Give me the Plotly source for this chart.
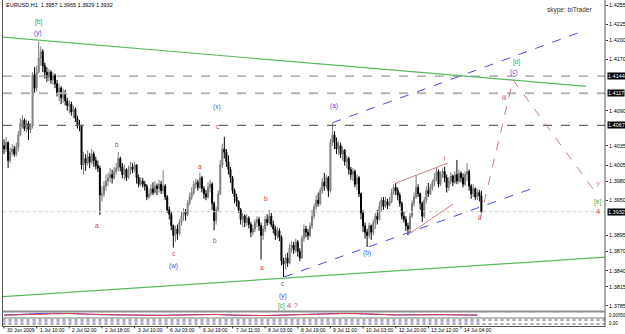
import plotly.graph_objects as go

# ---------------- data (EURUSD H1) ----------------
first_open = 1.4035
closes = [
1.4030,1.4040,1.4012,1.4025,1.4030,1.4022,1.4033,1.4052,1.4070,1.4075,
1.4062,1.4070,1.4060,1.4066,1.4146,1.4125,1.4150,1.4172,1.4182,1.4160,
1.4150,1.4142,1.4150,1.4138,1.4145,1.4132,1.4118,1.4125,1.4110,1.4118,
1.4105,1.4098,1.4100,1.4088,1.4092,1.4078,1.4068,1.4066,1.4005,1.4015,
1.4008,1.4018,1.4010,1.4022,1.4012,1.4004,1.4000,1.3958,1.3960,1.3972,
1.3980,1.3985,1.3990,1.3985,1.3995,1.4000,1.4015,1.4002,1.3990,1.3998,
1.3985,1.3995,1.4002,1.3998,1.4005,1.3985,1.3975,1.3980,1.3975,1.3972,
1.3955,1.3960,1.3968,1.3962,1.3972,1.3968,1.3975,1.3965,1.3972,1.3955,
1.3935,1.3928,1.3910,1.3895,1.3905,1.3898,1.3915,1.3925,1.3932,1.3928,
1.3945,1.3955,1.3962,1.3975,1.3978,1.3970,1.3985,1.3968,1.3960,1.3955,
1.3970,1.3975,1.3945,1.3918,1.3935,1.3960,1.4005,1.4030,1.4025,1.4010,
1.3998,1.3985,1.3965,1.3955,1.3948,1.3935,1.3920,1.3925,1.3915,1.3922,
1.3912,1.3900,1.3905,1.3915,1.3920,1.3910,1.3895,1.3905,1.3920,1.3915,
1.3925,1.3912,1.3905,1.3895,1.3902,1.3892,1.3855,1.3850,1.3860,1.3852,
1.3875,1.3880,1.3872,1.3885,1.3870,1.3860,1.3890,1.3905,1.3900,1.3895,
1.3910,1.3925,1.3940,1.3950,1.3945,1.3965,1.3978,1.3972,1.3985,1.3965,
1.4040,1.4052,1.4040,1.4030,1.4035,1.4022,1.4028,1.4010,1.4015,1.3998,
1.3990,1.3995,1.3975,1.3985,1.3960,1.3930,1.3910,1.3900,1.3895,1.3910,
1.3900,1.3915,1.3925,1.3920,1.3940,1.3950,1.3940,1.3948,1.3942,1.3948,
1.3962,1.3970,1.3965,1.3958,1.3945,1.3925,1.3920,1.3910,1.3905,1.3925,
1.3945,1.3955,1.3970,1.3960,1.3945,1.3925,1.3950,1.3965,1.3960,1.3970,
1.3978,1.3985,1.3995,1.3975,1.3990,1.3995,1.3985,1.3970,1.3980,1.3988,
1.3978,1.3990,1.3980,1.3992,1.3985,1.3975,1.3990,1.3995,1.3972,1.3960,
1.3968,1.3955,1.3962,1.3957,1.3932]
highs = [
1.4045,1.4049,1.4042,1.4032,1.4038,1.4035,1.4040,1.4058,1.4078,1.4083,
1.4078,1.4076,1.4074,1.4070,1.4150,1.4158,1.4160,1.4198,1.4190,1.4186,
1.4165,1.4158,1.4155,1.4153,1.4150,1.4148,1.4138,1.4132,1.4128,1.4124,
1.4122,1.4110,1.4106,1.4104,1.4098,1.4095,1.4082,1.4075,1.4068,1.4025,
1.4022,1.4028,1.4024,1.4030,1.4026,1.4018,1.4012,1.4004,1.3972,1.3980,
1.3990,1.3993,1.4000,1.3998,1.4002,1.4008,1.4025,1.4018,1.4008,1.4006,
1.4000,1.4004,1.4010,1.4008,1.4010,1.4006,1.3990,1.3986,1.3985,1.3980,
1.3975,1.3968,1.3975,1.3978,1.3980,1.3976,1.3982,1.3980,1.3997,1.3975,
1.3958,1.3940,1.3932,1.3912,1.3910,1.3912,1.3920,1.3932,1.3938,1.3936,
1.3950,1.3962,1.3970,1.3980,1.3984,1.3982,1.3993,1.3988,1.3972,1.3966,
1.3978,1.3982,1.3978,1.3948,1.3940,1.3965,1.4013,1.4038,1.4049,1.4030,
1.4020,1.4002,1.3988,1.3968,1.3960,1.3950,1.3938,1.3930,1.3928,1.3928,
1.3925,1.3916,1.3912,1.3920,1.3925,1.3924,1.3915,1.3910,1.3925,1.3928,
1.3935,1.3930,1.3918,1.3910,1.3908,1.3906,1.3895,1.3860,1.3866,1.3868,
1.3882,1.3886,1.3885,1.3890,1.3888,1.3875,1.3895,1.3912,1.3910,1.3905,
1.3915,1.3935,1.3945,1.3958,1.3962,1.3970,1.3985,1.3993,1.3990,1.3988,
1.4046,1.4070,1.4058,1.4048,1.4042,1.4040,1.4034,1.4030,1.4020,1.4018,
1.4002,1.4000,1.3998,1.3990,1.3988,1.3962,1.3935,1.3915,1.3905,1.3915,
1.3912,1.3920,1.3930,1.3935,1.3948,1.3955,1.3955,1.3955,1.3952,1.3955,
1.3968,1.3975,1.3977,1.3970,1.3962,1.3948,1.3932,1.3925,1.3915,1.3930,
1.3950,1.3962,1.3989,1.3975,1.3962,1.3948,1.3955,1.3972,1.3977,1.3975,
1.3982,1.3992,1.4002,1.3998,1.3995,1.4000,1.4002,1.3990,1.3986,1.3993,
1.3990,1.3995,1.4013,1.3998,1.3995,1.3992,1.3995,1.4008,1.3998,1.3975,
1.3975,1.3970,1.3968,1.3966,1.3965]
lows = [
1.4022,1.4025,1.4000,1.4008,1.4020,1.4018,1.4018,1.4026,1.4050,1.4062,
1.4058,1.4056,1.4044,1.4055,1.4062,1.4118,1.4120,1.4148,1.4160,1.4150,
1.4140,1.4135,1.4136,1.4132,1.4130,1.4125,1.4112,1.4105,1.4100,1.4102,
1.4098,1.4090,1.4085,1.4082,1.4078,1.4072,1.4062,1.4058,1.3998,1.3990,
1.3996,1.4004,1.4000,1.4006,1.4002,1.3998,1.3994,1.3927,1.3948,1.3955,
1.3965,1.3972,1.3978,1.3976,1.3982,1.3990,1.3995,1.3995,1.3984,1.3982,
1.3980,1.3983,1.3990,1.3992,1.3994,1.3976,1.3970,1.3972,1.3970,1.3965,
1.3950,1.3952,1.3956,1.3958,1.3960,1.3958,1.3962,1.3960,1.3960,1.3950,
1.3930,1.3920,1.3903,1.3876,1.3885,1.3888,1.3895,1.3910,1.3918,1.3918,
1.3925,1.3942,1.3950,1.3958,1.3968,1.3965,1.3968,1.3962,1.3952,1.3950,
1.3952,1.3962,1.3935,1.3903,1.3912,1.3932,1.3958,1.4000,1.4015,1.4002,
1.3990,1.3977,1.3960,1.3945,1.3940,1.3930,1.3912,1.3908,1.3908,1.3910,
1.3906,1.3892,1.3895,1.3900,1.3908,1.3902,1.3857,1.3888,1.3900,1.3910,
1.3912,1.3908,1.3898,1.3888,1.3890,1.3886,1.3848,1.3830,1.3842,1.3846,
1.3850,1.3868,1.3866,1.3868,1.3862,1.3855,1.3858,1.3885,1.3892,1.3888,
1.3892,1.3905,1.3920,1.3935,1.3940,1.3942,1.3960,1.3965,1.3968,1.3955,
1.3962,1.4035,1.4030,1.4022,1.4020,1.4016,1.4012,1.4004,1.4000,1.3990,
1.3982,1.3980,1.3970,1.3966,1.3955,1.3920,1.3900,1.3890,1.3877,1.3890,
1.3888,1.3895,1.3905,1.3912,1.3918,1.3932,1.3935,1.3938,1.3936,1.3940,
1.3945,1.3958,1.3958,1.3950,1.3940,1.3920,1.3915,1.3902,1.3895,1.3900,
1.3922,1.3940,1.3952,1.3955,1.3935,1.3916,1.3922,1.3945,1.3955,1.3958,
1.3965,1.3972,1.3980,1.3970,1.3972,1.3985,1.3978,1.3962,1.3965,1.3975,
1.3972,1.3975,1.3975,1.3976,1.3978,1.3970,1.3972,1.3980,1.3965,1.3952,
1.3955,1.3950,1.3950,1.3948,1.3929]

time_ticks = [0,16,32,48,64,80,96,112,128,144,160,176,192,208,224]
time_labels = ["30 Jun 2009","1 Jul 10:00","2 Jul 02:00","2 Jul 18:00","3 Jul 10:00",
               "6 Jul 03:00","6 Jul 19:00","7 Jul 11:00","8 Jul 03:00","8 Jul 19:00",
               "9 Jul 11:00","10 Jul 03:00","12 Jul 20:00","13 Jul 12:00","14 Jul 04:00"]
price_ticks = [1.4255,1.4225,1.4200,1.4170,1.4090,1.4035,1.4005,1.3980,1.3950,
               1.3895,1.3870,1.3840,1.3815,1.3785]
levels = [1.4144, 1.4117, 1.4067]
last_price = 1.3932

# indicator (sub window), sampled every 8 bars
ind_x = list(range(0, 235, 8))
ind_blue = [0.50,0.62,0.85,0.90,0.80,0.62,0.55,0.50,0.45,0.40,0.45,0.55,0.58,0.62,0.45,
            0.35,0.40,0.50,0.62,0.68,0.75,0.85,0.72,0.58,0.50,0.55,0.62,0.55,0.50,0.48]
ind_red = [0.45,0.55,0.75,0.85,0.82,0.68,0.58,0.52,0.48,0.42,0.42,0.50,0.55,0.60,0.50,
           0.40,0.38,0.46,0.56,0.64,0.70,0.80,0.76,0.62,0.52,0.52,0.58,0.58,0.52,0.48]

# trend lines: (bar index, price)
green_upper = [(-1.5, 1.4205), (285.3, 1.4128)]
green_lower = [(-1.5, 1.3799), (294.6, 1.3861)]
blue_upper = [(161.0, 1.4071), (285.3, 1.4216)]
blue_lower = [(137.3, 1.3830), (261.3, 1.3971)]
red_path = [(233.3, 1.3919), (249.5, 1.4138), (291.2, 1.3957)]
red_wedge_up = [(192.2, 1.3977), (217.6, 1.4008)]
red_wedge_lo = [(198.0, 1.3896), (220.1, 1.3944)]

# wave labels: (bar index, price, text, kind)
wave_labels = [
    (16.7, 1.42284, "[b]", "g"), (16.7, 1.42113, "(y)", "b"),
    (45.6, 1.39112, "a", "r"), (55.4, 1.40378, "b", "r"),
    (83.3, 1.38675, "c", "r"), (83.3, 1.38472, "(w)", "b"),
    (96.1, 1.40034, "a", "r"), (103.4, 1.38863, "b", "r"),
    (104.9, 1.40644, "c", "r"), (104.4, 1.40956, "(x)", "b"),
    (128.4, 1.39534, "b", "r"), (126.5, 1.38456, "a", "r"),
    (136.8, 1.38206, "c", "r"), (136.8, 1.38003, "(y)", "b"),
    (135.8, 1.37847, "[c]", "g"), (139.7, 1.37847, "4", "r"), (143.1, 1.37847, "?", "r"),
    (161.8, 1.40972, "(a)", "b"), (177.9, 1.38675, "(b)", "b"),
    (215.7, 1.40159, "i", "r"), (233.3, 1.39222, "ii", "r"), (245.1, 1.41097, "iii", "r"),
    (251.0, 1.41659, "[d]", "g"), (250.0, 1.41503, "(c)", "b"),
    (291.2, 1.39738, "?", "r"), (290.7, 1.39472, "[e]", "g"), (291.2, 1.39316, "4", "r"),
]

# ---------------- figure ----------------
W, H = 625, 334
def px(x): return x / W
def py(y): return 1 - y / H

opens = [first_open] + closes[:-1]
idx = list(range(len(closes)))

fig = go.Figure()
fig.add_trace(go.Candlestick(
    x=idx, open=opens, high=highs, low=lows, close=closes,
    increasing=dict(line=dict(color="#7a7a7a", width=1), fillcolor="#a8a8a8"),
    decreasing=dict(line=dict(color="#000000", width=1), fillcolor="#000000"),
    whiskerwidth=0, showlegend=False, hoverinfo="skip", xaxis="x", yaxis="y"))

def add_line(pts, color, dash="solid", width=1):
    fig.add_trace(go.Scatter(x=[p[0] for p in pts], y=[p[1] for p in pts], mode="lines",
                             line=dict(color=color, dash=dash, width=width),
                             showlegend=False, hoverinfo="skip", xaxis="x", yaxis="y"))

# horizontal levels
lv_styles = [("#9a9a9a", "dash", 1.2), ("#b4b4b4", "dash", 2), ("#666666", "dash", 1.2)]
for lv, (c, d, w) in zip(levels, lv_styles):
    add_line([(-0.5, lv), (294.6, lv)], c, d, w)
add_line([(-0.5, last_price), (294.6, last_price)], "#cfcfcf", "dot", 1)

add_line(green_upper, "#5cb85c", "solid", 1.2)
add_line(green_lower, "#5cb85c", "solid", 1.2)
add_line(blue_upper, "#4b4bf0", "dash", 1)
add_line(blue_lower, "#4b4bf0", "dash", 1)
add_line(red_path, "#d07a7a", "dash", 1)
add_line(red_wedge_up, "#d08080", "solid", 1)
add_line(red_wedge_lo, "#d08080", "solid", 1)

# indicator lines
fig.add_trace(go.Scatter(x=ind_x, y=ind_blue, mode="lines", line=dict(color="#3c3cf0", width=1),
                         showlegend=False, hoverinfo="skip", xaxis="x2", yaxis="y2"))
fig.add_trace(go.Scatter(x=ind_x, y=ind_red, mode="lines", line=dict(color="#e04040", width=1),
                         showlegend=False, hoverinfo="skip", xaxis="x2", yaxis="y2"))

colors = {"g": "#3a9e3a", "b": "#4d4de6", "r": "#c84848"}
ann = []
for (xi, yv, t, k) in wave_labels:
    ann.append(dict(x=xi, y=yv, xref="x", yref="y", text=t, showarrow=False,
                    font=dict(family="Liberation Sans, Arial", size=7.5 if t == "4" else 6.5,
                              color=colors[k])))
# price boxes
for lv in levels + [last_price]:
    ann.append(dict(x=px(606.5), y=lv, xref="paper", yref="y", text=f"{lv:.4f}", showarrow=False,
                    xanchor="left", yanchor="middle", bgcolor="#000000", borderpad=0,
                    font=dict(family="Liberation Sans, Arial", size=5.5, color="#ffffff")))
# time labels
for ti, tl in zip(time_ticks, time_labels):
    ann.append(dict(x=ti, y=py(330), xref="x", yref="paper", text=tl, showarrow=False,
                    xanchor="left", yanchor="middle", xshift=1,
                    font=dict(family="Liberation Sans, Arial", size=5, color="#000000")))
ann.append(dict(x=px(4), y=py(5), xref="paper", yref="paper",
                text="EURUSD,H1  1.3957 1.3965 1.3929 1.3932", showarrow=False,
                xanchor="left", yanchor="middle",
                font=dict(family="Liberation Sans, Arial", size=5.5, color="#000000")))
ann.append(dict(x=px(594), y=py(10), xref="paper", yref="paper", text="skype: biTrader",
                showarrow=False, xanchor="right", yanchor="middle",
                font=dict(family="Liberation Sans, Arial", size=6.5, color="#333333")))
ann.append(dict(x=px(607), y=py(315), xref="paper", yref="paper", text="0.00050",
                showarrow=False, xanchor="left", yanchor="middle",
                font=dict(family="Liberation Sans, Arial", size=4.5, color="#000000")))
ann.append(dict(x=px(607), y=py(323.5), xref="paper", yref="paper", text="0.00",
                showarrow=False, xanchor="left", yanchor="middle",
                font=dict(family="Liberation Sans, Arial", size=4.5, color="#000000")))

shapes = [
    dict(type="line", xref="paper", yref="paper", x0=px(2.5), x1=px(2.5), y0=py(0), y1=py(327),
         line=dict(color="#555555", width=1)),
    dict(type="line", xref="paper", yref="paper", x0=px(605), x1=px(605), y0=py(0), y1=py(327),
         line=dict(color="#555555", width=1)),
    dict(type="line", xref="paper", yref="paper", x0=px(2.5), x1=px(605), y0=py(311.5), y1=py(311.5),
         line=dict(color="#8c8c8c", width=2)),
    dict(type="line", xref="paper", yref="paper", x0=px(2.5), x1=px(605), y0=py(318), y1=py(318),
         line=dict(color="#777777", width=1)),
    dict(type="line", xref="paper", yref="paper", x0=px(2.5), x1=px(605), y0=py(320), y1=py(320),
         line=dict(color="#555555", width=1, dash="dot")),
    dict(type="line", xref="paper", yref="paper", x0=px(2.5), x1=px(480), y0=py(322), y1=py(322),
         line=dict(color="#6a6af0", width=1, dash="dot")),
    dict(type="line", xref="paper", yref="paper", x0=px(2.5), x1=px(605), y0=py(324), y1=py(324),
         line=dict(color="#555555", width=1, dash="dot")),
    dict(type="line", xref="paper", yref="paper", x0=px(2.5), x1=px(605), y0=py(326.5), y1=py(326.5),
         line=dict(color="#555555", width=1)),
]
for ti in time_ticks:
    shapes.append(dict(type="line", xref="x", yref="paper", x0=ti, x1=ti, y0=py(326.5), y1=py(328.5),
                       line=dict(color="#333333", width=1)))

xr = [-0.5, -0.5 + 602 / 2.04]
fig.update_layout(
    width=W, height=H, margin=dict(l=0, r=0, t=0, b=0),
    paper_bgcolor="#ffffff", plot_bgcolor="#ffffff",
    xaxis=dict(domain=[px(3), px(605)], range=xr, showgrid=False, zeroline=False,
               showticklabels=False, rangeslider=dict(visible=False), anchor="y", fixedrange=True),
    yaxis=dict(domain=[py(311), py(2)], range=[1.4255 - 306 * 0.00015625, 1.4255 + 3 * 0.00015625],
               side="right", anchor="x", showgrid=False, zeroline=False,
               tickvals=price_ticks, ticktext=[f"{v:.4f}" for v in price_ticks],
               ticks="outside", ticklen=2, tickcolor="#333333",
               tickfont=dict(family="Liberation Sans, Arial", size=5.5, color="#000000")),
    xaxis2=dict(domain=[px(3), px(605)], range=xr, showgrid=False, zeroline=False,
                showticklabels=False, anchor="y2"),
    yaxis2=dict(domain=[py(317.5), py(312.5)], range=[0, 1], showgrid=False, zeroline=False,
                showticklabels=False, anchor="x2"),
    annotations=ann, shapes=shapes,
)
fig.write_html("out.html")
